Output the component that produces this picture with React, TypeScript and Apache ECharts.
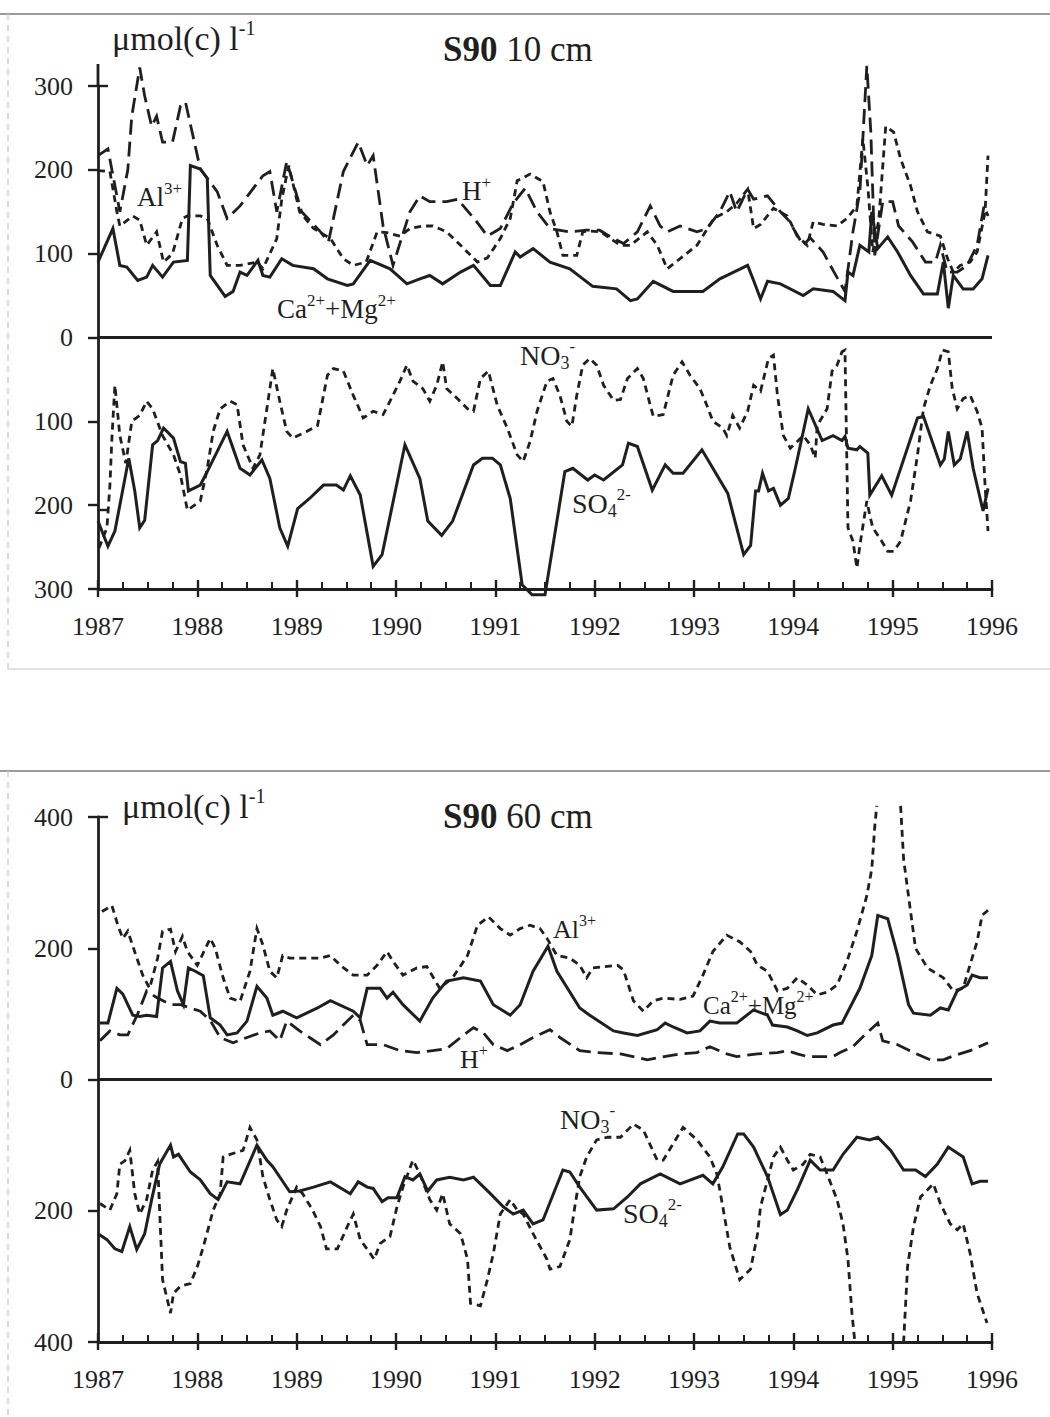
import React, { useEffect, useRef } from "react";
import * as echarts from "echarts";

type Pt = [number, number | "-"];

// ---------- axis definitions ----------
const xMin = 1987;
const xMax = 1996;
const yRange10 = 300; // upper panel: cations up, anions down
const yRange60 = 400; // lower panel

// ---------- S90 10 cm : cations ----------
const caMg10: Pt[] = [
  [1987.0, 90], [1987.15, 130], [1987.22, 86], [1987.29, 84], [1987.4, 68], [1987.49, 72], [1987.55, 86],
  [1987.65, 72], [1987.76, 90], [1987.9, 92], [1987.93, 205], [1988.03, 201], [1988.1, 190], [1988.13, 74],
  [1988.28, 49], [1988.36, 55], [1988.43, 78], [1988.5, 74], [1988.61, 92], [1988.66, 74], [1988.73, 72],
  [1988.85, 94], [1988.96, 86], [1989.17, 82], [1989.31, 70], [1989.51, 62], [1989.57, 64], [1989.74, 92],
  [1989.94, 82], [1990.11, 64], [1990.24, 70], [1990.34, 74], [1990.47, 64], [1990.65, 78], [1990.78, 86],
  [1990.95, 62], [1991.05, 62], [1991.2, 102], [1991.25, 96], [1991.38, 106], [1991.55, 90], [1991.75, 82],
  [1991.98, 61], [1992.22, 58], [1992.36, 44], [1992.43, 46], [1992.59, 67], [1992.79, 55], [1993.09, 55],
  [1993.26, 70], [1993.4, 78], [1993.54, 86], [1993.6, 68], [1993.67, 46], [1993.74, 67], [1993.87, 64],
  [1994.1, 50], [1994.2, 58], [1994.4, 55], [1994.52, 44], [1994.55, 78], [1994.6, 74], [1994.67, 110],
  [1994.76, 102], [1994.79, 150], [1994.85, 106], [1994.95, 120], [1995.05, 102], [1995.18, 74], [1995.31, 52],
  [1995.45, 52], [1995.51, 90], [1995.56, 35], [1995.61, 74], [1995.71, 58], [1995.81, 58], [1995.9, 70],
  [1995.96, 98],
];

const h10: Pt[] = [
  [1987.0, 217], [1987.1, 225], [1987.22, 150], [1987.3, 200], [1987.34, 264], [1987.42, 322], [1987.47, 288],
  [1987.54, 252], [1987.59, 264], [1987.65, 233], [1987.75, 233], [1987.83, 276], [1987.88, 281], [1988.03, 201],
  [1988.2, 174], [1988.3, 142], [1988.43, 157], [1988.66, 193], [1988.73, 198], [1988.8, 150], [1988.9, 210],
  [1989.05, 150], [1989.24, 126], [1989.32, 114], [1989.47, 198], [1989.62, 233], [1989.71, 205], [1989.77, 217],
  [1989.87, 133], [1989.97, 86], [1990.14, 150], [1990.24, 169], [1990.34, 162], [1990.51, 162], [1990.62, 165],
  [1990.8, 140], [1990.92, 121], [1991.05, 130], [1991.18, 160], [1991.3, 178], [1991.42, 150], [1991.55, 130],
  [1991.75, 126], [1991.92, 128], [1992.05, 128], [1992.16, 120], [1992.29, 112], [1992.43, 126], [1992.56, 157],
  [1992.66, 133], [1992.73, 126], [1992.86, 133], [1993.03, 126], [1993.13, 130], [1993.26, 150], [1993.36, 174],
  [1993.43, 150], [1993.54, 177], [1993.6, 165], [1993.74, 169], [1993.87, 150], [1993.95, 140], [1994.1, 110],
  [1994.17, 119], [1994.3, 102], [1994.4, 80], [1994.52, 55], [1994.6, 126], [1994.67, 174], [1994.74, 324],
  [1994.78, 245], [1994.82, 98], [1994.9, 162], [1995.0, 162], [1995.06, 133], [1995.2, 114], [1995.33, 90],
  [1995.43, 90], [1995.48, 110], [1995.55, 78], [1995.65, 78], [1995.75, 86], [1995.85, 110], [1995.92, 157],
  [1995.96, 145],
];

const al10: Pt[] = [
  [1987.0, 199], [1987.12, 198], [1987.19, 150], [1987.22, 133], [1987.35, 145], [1987.42, 140], [1987.49, 110],
  [1987.59, 126], [1987.66, 90], [1987.75, 100], [1987.85, 142], [1987.9, 145], [1988.03, 145], [1988.1, 142],
  [1988.2, 110], [1988.3, 86], [1988.43, 86], [1988.6, 90], [1988.66, 82], [1988.8, 118], [1988.85, 165],
  [1988.92, 205], [1989.03, 150], [1989.17, 130], [1989.34, 118], [1989.47, 94], [1989.57, 86], [1989.7, 90],
  [1989.81, 126], [1989.91, 125], [1990.04, 121], [1990.14, 130], [1990.27, 133], [1990.37, 133], [1990.51, 126],
  [1990.65, 110], [1990.82, 90], [1990.92, 95], [1991.05, 118], [1991.15, 142], [1991.22, 187], [1991.35, 195],
  [1991.48, 186], [1991.55, 150], [1991.62, 126], [1991.68, 98], [1991.82, 98], [1991.88, 126], [1991.95, 127],
  [1992.06, 126], [1992.26, 110], [1992.36, 110], [1992.53, 126], [1992.63, 110], [1992.73, 82], [1992.86, 94],
  [1993.03, 110], [1993.2, 142], [1993.33, 150], [1993.43, 160], [1993.54, 177], [1993.6, 130], [1993.67, 135],
  [1993.8, 154], [1993.94, 145], [1994.04, 121], [1994.14, 110], [1994.2, 138], [1994.3, 135], [1994.44, 133],
  [1994.54, 142], [1994.64, 157], [1994.7, 237], [1994.75, 180], [1994.8, 102], [1994.86, 140], [1994.93, 252],
  [1995.01, 245], [1995.08, 213], [1995.18, 181], [1995.25, 150], [1995.35, 126], [1995.48, 121], [1995.55, 95],
  [1995.61, 78], [1995.68, 86], [1995.78, 90], [1995.85, 102], [1995.93, 150], [1995.96, 217],
];

// ---------- S90 10 cm : anions (plotted downward) ----------
const no3_10: Pt[] = [
  [1987.01, 251], [1987.09, 227], [1987.12, 176], [1987.14, 120], [1987.17, 57], [1987.22, 117], [1987.28, 150],
  [1987.34, 100], [1987.42, 93], [1987.49, 76], [1987.55, 85], [1987.65, 117], [1987.76, 140], [1987.83, 164],
  [1987.9, 206], [1988.03, 195], [1988.1, 156], [1988.16, 112], [1988.23, 85], [1988.33, 76], [1988.4, 80],
  [1988.46, 128], [1988.56, 156], [1988.63, 140], [1988.7, 85], [1988.76, 37], [1988.83, 76], [1988.9, 112],
  [1988.96, 120], [1989.1, 112], [1989.21, 105], [1989.31, 45], [1989.37, 37], [1989.47, 40], [1989.57, 69],
  [1989.67, 96], [1989.77, 88], [1989.87, 92], [1989.94, 76], [1990.04, 52], [1990.11, 33], [1990.17, 52],
  [1990.27, 61], [1990.34, 76], [1990.41, 57], [1990.47, 29], [1990.51, 61], [1990.62, 73], [1990.72, 85],
  [1990.78, 88], [1990.85, 49], [1990.93, 40], [1991.02, 81], [1991.12, 108], [1991.22, 140], [1991.28, 148],
  [1991.35, 124], [1991.42, 88], [1991.52, 52], [1991.58, 49], [1991.65, 69], [1991.72, 100], [1991.77, 106],
  [1991.82, 69], [1991.88, 33], [1991.95, 25], [1992.02, 33], [1992.09, 57], [1992.19, 75], [1992.26, 74],
  [1992.33, 49], [1992.43, 37], [1992.49, 49], [1992.56, 81], [1992.59, 94], [1992.69, 92], [1992.79, 45],
  [1992.88, 29], [1992.96, 45], [1993.06, 61], [1993.13, 81], [1993.19, 100], [1993.29, 108], [1993.33, 117],
  [1993.39, 93], [1993.46, 108], [1993.54, 88], [1993.6, 57], [1993.67, 64], [1993.75, 25], [1993.8, 21],
  [1993.84, 69], [1993.9, 117], [1993.97, 132], [1994.04, 124], [1994.1, 117], [1994.17, 128], [1994.22, 144],
  [1994.24, 105], [1994.34, 85], [1994.39, 40], [1994.44, 33], [1994.49, 17], [1994.52, 15], [1994.55, 227],
  [1994.6, 243], [1994.64, 275], [1994.67, 248], [1994.74, 195], [1994.77, 212], [1994.8, 227], [1994.89, 243],
  [1994.95, 255], [1995.01, 255], [1995.08, 243], [1995.18, 195], [1995.25, 140], [1995.31, 85], [1995.38, 57],
  [1995.45, 37], [1995.5, 15], [1995.56, 17], [1995.6, 61], [1995.65, 85], [1995.71, 73], [1995.78, 69],
  [1995.85, 88], [1995.9, 108], [1995.93, 176], [1995.96, 231],
];

const so4_10: Pt[] = [
  [1987.0, 219], [1987.1, 249], [1987.17, 231], [1987.31, 144], [1987.37, 183], [1987.42, 227], [1987.47, 218],
  [1987.55, 128], [1987.6, 123], [1987.66, 108], [1987.76, 120], [1987.83, 148], [1987.88, 150], [1987.91, 183],
  [1988.03, 176], [1988.1, 160], [1988.3, 112], [1988.43, 156], [1988.53, 164], [1988.65, 146], [1988.73, 168],
  [1988.83, 227], [1988.91, 249], [1989.01, 204], [1989.13, 192], [1989.27, 176], [1989.4, 176], [1989.47, 182],
  [1989.54, 165], [1989.64, 188], [1989.77, 273], [1989.86, 259], [1990.09, 128], [1990.24, 168], [1990.32, 219],
  [1990.46, 236], [1990.57, 219], [1990.78, 152], [1990.87, 144], [1990.97, 144], [1991.05, 152], [1991.15, 192],
  [1991.27, 295], [1991.37, 307], [1991.5, 307], [1991.7, 160], [1991.78, 156], [1991.93, 170], [1992.0, 164],
  [1992.09, 170], [1992.28, 152], [1992.34, 126], [1992.43, 130], [1992.58, 182], [1992.71, 152], [1992.79, 162],
  [1992.89, 162], [1993.08, 134], [1993.34, 186], [1993.5, 259], [1993.57, 248], [1993.62, 183], [1993.65, 183],
  [1993.69, 162], [1993.75, 183], [1993.8, 180], [1993.87, 200], [1993.95, 192], [1994.02, 156], [1994.15, 85],
  [1994.29, 123], [1994.4, 117], [1994.49, 123], [1994.52, 118], [1994.55, 132], [1994.64, 134], [1994.67, 130],
  [1994.75, 138], [1994.77, 188], [1994.89, 165], [1994.99, 188], [1995.25, 96], [1995.31, 94], [1995.48, 152],
  [1995.52, 145], [1995.56, 112], [1995.62, 152], [1995.68, 145], [1995.75, 112], [1995.81, 156], [1995.91, 207],
  [1995.96, 180],
];

// ---------- S90 60 cm : cations ----------
const caMg60: Pt[] = [
  [1987.02, 86], [1987.1, 86], [1987.19, 139], [1987.25, 130], [1987.35, 98], [1987.42, 96], [1987.49, 98],
  [1987.59, 96], [1987.65, 170], [1987.73, 180], [1987.8, 135], [1987.86, 114], [1987.91, 170], [1987.98, 165],
  [1988.06, 158], [1988.13, 94], [1988.23, 83], [1988.3, 68], [1988.4, 71], [1988.5, 89], [1988.6, 142],
  [1988.7, 124], [1988.76, 98], [1988.86, 104], [1989.0, 94], [1989.21, 109], [1989.34, 120], [1989.57, 104],
  [1989.64, 94], [1989.71, 139], [1989.84, 139], [1989.91, 124], [1989.97, 133], [1990.07, 114], [1990.24, 89],
  [1990.37, 124], [1990.51, 150], [1990.68, 155], [1990.85, 150], [1990.98, 114], [1991.15, 98], [1991.25, 114],
  [1991.38, 165], [1991.53, 203], [1991.62, 165], [1991.85, 109], [1991.95, 98], [1992.19, 74], [1992.29, 71],
  [1992.43, 67], [1992.63, 76], [1992.71, 86], [1992.79, 80], [1992.93, 71], [1993.06, 74], [1993.16, 89],
  [1993.26, 86], [1993.43, 86], [1993.6, 106], [1993.67, 102], [1993.74, 98], [1993.79, 83], [1993.94, 80],
  [1994.04, 74], [1994.14, 67], [1994.24, 71], [1994.4, 83], [1994.49, 86], [1994.67, 139], [1994.79, 189],
  [1994.85, 250], [1994.95, 245], [1995.05, 189], [1995.16, 114], [1995.21, 101], [1995.38, 98], [1995.48, 109],
  [1995.56, 106], [1995.65, 135], [1995.75, 144], [1995.8, 159], [1995.88, 155], [1995.96, 155],
];

const h60: Pt[] = [
  [1987.02, 59], [1987.12, 74], [1987.22, 68], [1987.3, 68], [1987.4, 100], [1987.49, 135], [1987.59, 125],
  [1987.73, 114], [1987.83, 114], [1988.03, 104], [1988.13, 90], [1988.23, 64], [1988.36, 56], [1988.5, 64],
  [1988.63, 71], [1988.73, 74], [1988.83, 59], [1988.9, 89], [1989.03, 74], [1989.24, 53], [1989.37, 68],
  [1989.57, 98], [1989.64, 90], [1989.71, 53], [1989.87, 53], [1990.04, 44], [1990.21, 41], [1990.37, 44],
  [1990.51, 47], [1990.65, 64], [1990.78, 79], [1990.88, 71], [1990.98, 53], [1991.12, 44], [1991.25, 53],
  [1991.38, 64], [1991.55, 76], [1991.65, 64], [1991.85, 44], [1992.02, 41], [1992.26, 39], [1992.53, 30],
  [1992.66, 34], [1992.86, 39], [1993.03, 41], [1993.16, 50], [1993.33, 39], [1993.43, 35], [1993.64, 39],
  [1993.84, 41], [1993.94, 44], [1994.04, 39], [1994.14, 35], [1994.4, 35], [1994.47, 41], [1994.6, 50],
  [1994.74, 71], [1994.85, 86], [1994.9, 59], [1995.05, 53], [1995.21, 41], [1995.38, 30], [1995.51, 30],
  [1995.61, 36], [1995.78, 44], [1995.96, 56],
];

const al60: Pt[] = [
  [1987.04, 256], [1987.14, 265], [1987.2, 235], [1987.25, 215], [1987.3, 226], [1987.38, 190], [1987.45, 159],
  [1987.52, 139], [1987.6, 185], [1987.65, 226], [1987.73, 229], [1987.78, 195], [1987.85, 218], [1987.9, 195],
  [1988.0, 174], [1988.13, 215], [1988.18, 200], [1988.26, 155], [1988.33, 124], [1988.43, 119], [1988.53, 165],
  [1988.6, 230], [1988.66, 205], [1988.73, 165], [1988.8, 155], [1988.86, 189], [1988.93, 185], [1989.1, 185],
  [1989.24, 185], [1989.34, 189], [1989.44, 174], [1989.57, 159], [1989.71, 159], [1989.81, 174], [1989.91, 195],
  [1989.97, 180], [1990.07, 159], [1990.21, 170], [1990.31, 172], [1990.44, 139], [1990.57, 155], [1990.72, 189],
  [1990.82, 235], [1990.93, 248], [1991.05, 230], [1991.15, 220], [1991.25, 230], [1991.35, 235], [1991.45, 230],
  [1991.52, 215], [1991.62, 189], [1991.75, 185], [1991.85, 174], [1991.92, 155], [1991.98, 170], [1992.23, 174],
  [1992.29, 167], [1992.39, 120], [1992.49, 104], [1992.59, 120], [1992.69, 124], [1992.86, 122], [1992.99, 127],
  [1993.09, 159], [1993.19, 195], [1993.33, 220], [1993.46, 210], [1993.57, 195], [1993.64, 174], [1993.74, 165],
  [1993.84, 135], [1993.94, 139], [1994.04, 155], [1994.14, 144], [1994.24, 129], [1994.34, 133], [1994.44, 144],
  [1994.54, 180], [1994.64, 226], [1994.74, 280], [1994.79, 321], [1994.82, 386], [1994.84, 417], [1994.96, "-"],
  [1995.08, 417], [1995.11, 336], [1995.18, 256], [1995.23, 200], [1995.35, 170], [1995.51, 155], [1995.61, 135],
  [1995.71, 139], [1995.76, 165], [1995.85, 210], [1995.9, 250], [1995.96, 258],
];

// ---------- S90 60 cm : anions (plotted downward) ----------
const no3_60: Pt[] = [
  [1987.02, 189], [1987.12, 199], [1987.19, 174], [1987.22, 129], [1987.27, 124], [1987.32, 108], [1987.37, 174],
  [1987.42, 205], [1987.49, 183], [1987.55, 138], [1987.6, 125], [1987.65, 305], [1987.73, 356], [1987.76, 326],
  [1987.83, 315], [1987.93, 311], [1988.0, 285], [1988.06, 255], [1988.16, 199], [1988.23, 174], [1988.26, 118],
  [1988.33, 114], [1988.46, 108], [1988.53, 73], [1988.6, 92], [1988.66, 148], [1988.73, 183], [1988.8, 214],
  [1988.85, 224], [1988.9, 199], [1989.0, 164], [1989.06, 174], [1989.16, 199], [1989.24, 224], [1989.3, 258],
  [1989.41, 258], [1989.51, 224], [1989.57, 205], [1989.64, 244], [1989.74, 265], [1989.78, 274], [1989.84, 250],
  [1989.94, 239], [1990.01, 194], [1990.07, 164], [1990.17, 123], [1990.24, 144], [1990.34, 183], [1990.41, 199],
  [1990.47, 174], [1990.54, 220], [1990.65, 235], [1990.72, 274], [1990.75, 341], [1990.85, 345], [1990.92, 305],
  [1990.98, 265], [1991.05, 205], [1991.15, 183], [1991.22, 199], [1991.28, 205], [1991.38, 235], [1991.52, 274],
  [1991.55, 289], [1991.65, 285], [1991.75, 244], [1991.8, 194], [1991.85, 148], [1991.92, 118], [1992.02, 92],
  [1992.13, 88], [1992.26, 88], [1992.39, 68], [1992.49, 77], [1992.63, 123], [1992.69, 123], [1992.79, 98],
  [1992.89, 73], [1993.03, 92], [1993.16, 118], [1993.23, 144], [1993.29, 194], [1993.36, 255], [1993.46, 305],
  [1993.57, 289], [1993.64, 235], [1993.67, 194], [1993.74, 153], [1993.8, 118], [1993.87, 103], [1993.94, 123],
  [1994.0, 138], [1994.1, 129], [1994.17, 114], [1994.27, 118], [1994.34, 144], [1994.44, 183], [1994.5, 220],
  [1994.55, 274], [1994.59, 356], [1994.62, 401], [1994.9, "-"], [1995.11, 401], [1995.15, 285], [1995.21, 224],
  [1995.28, 179], [1995.41, 159], [1995.48, 189], [1995.58, 220], [1995.65, 229], [1995.71, 220], [1995.78, 265],
  [1995.85, 326], [1995.95, 371],
];

const so4_60: Pt[] = [
  [1987.0, 235], [1987.09, 244], [1987.17, 258], [1987.24, 262], [1987.32, 224], [1987.39, 259], [1987.47, 235],
  [1987.54, 183], [1987.62, 129], [1987.73, 100], [1987.76, 118], [1987.81, 114], [1987.93, 141], [1988.03, 153],
  [1988.13, 174], [1988.21, 183], [1988.3, 156], [1988.43, 159], [1988.6, 100], [1988.7, 123], [1988.76, 133],
  [1988.93, 171], [1989.03, 170], [1989.17, 164], [1989.34, 156], [1989.54, 174], [1989.62, 156], [1989.71, 164],
  [1989.77, 166], [1989.86, 186], [1989.92, 180], [1990.01, 180], [1990.09, 148], [1990.17, 153], [1990.24, 144],
  [1990.32, 170], [1990.41, 153], [1990.54, 149], [1990.68, 153], [1990.78, 149], [1990.95, 174], [1991.08, 194],
  [1991.18, 205], [1991.28, 199], [1991.38, 220], [1991.48, 214], [1991.68, 138], [1991.75, 141], [1991.85, 164],
  [1992.02, 199], [1992.19, 197], [1992.33, 179], [1992.46, 159], [1992.66, 144], [1992.86, 159], [1993.09, 146],
  [1993.19, 159], [1993.29, 133], [1993.44, 83], [1993.5, 83], [1993.6, 103], [1993.74, 148], [1993.87, 206],
  [1993.94, 199], [1994.04, 168], [1994.17, 123], [1994.27, 138], [1994.4, 138], [1994.5, 114], [1994.64, 88],
  [1994.77, 92], [1994.85, 88], [1994.98, 108], [1995.11, 138], [1995.23, 138], [1995.33, 148], [1995.45, 129],
  [1995.56, 103], [1995.71, 118], [1995.8, 159], [1995.88, 155], [1995.96, 155],
];

// ---------- styling ----------
const INK = "#1f1f1f";
const FONT = "'Liberation Serif', 'Times New Roman', serif";
const DASH_LONG = [15, 7];
const DASH_SHORT = [7, 5];
const W_SOLID = 3;
const W_DASH = 2.8;

const down = (d: Pt[]): Pt[] => d.map(([x, v]) => [x, v === "-" ? "-" : -v] as Pt);

function line(data: Pt[], grid: number, dash: any, width = W_DASH) {
  return {
    type: "line",
    data,
    xAxisIndex: grid * 2,
    yAxisIndex: grid,
    symbol: "none",
    showSymbol: false,
    clip: false,
    connectNulls: false,
    silent: true,
    lineStyle: { color: INK, width, type: dash, cap: "butt", join: "miter" },
  };
}

function zeroLine(grid: number) {
  return {
    type: "line",
    data: [],
    xAxisIndex: grid * 2,
    yAxisIndex: grid,
    symbol: "none",
    markLine: {
      silent: true,
      symbol: ["none", "none"],
      label: { show: false },
      lineStyle: { color: INK, width: 2.8, type: "solid" },
      data: [{ yAxis: 0 }],
    },
  };
}

function xAxes(grid: number) {
  const base = {
    type: "value",
    gridIndex: grid,
    min: xMin,
    max: xMax,
    interval: 1,
    position: "bottom",
    splitLine: { show: false },
  };
  return [
    {
      ...base,
      axisLine: { show: true, onZero: false, lineStyle: { color: INK, width: 2.8 } },
      axisTick: { show: true, inside: false, length: 8, lineStyle: { color: INK, width: 2.4 } },
      axisLabel: {
        show: true,
        margin: 24,
        fontSize: 26,
        fontFamily: FONT,
        color: INK,
        showMinLabel: true,
        showMaxLabel: true,
        formatter: (v: number) => String(v),
      },
    },
    {
      ...base,
      axisLine: { show: false, onZero: false },
      axisTick: { show: true, inside: true, length: 9, lineStyle: { color: INK, width: 2.4 } },
      minorTick: { show: true, splitNumber: 4, length: 7, lineStyle: { color: INK, width: 2 } },
      axisLabel: { show: false },
    },
  ];
}

function yAxis(grid: number, range: number, interval: number) {
  return {
    type: "value",
    gridIndex: grid,
    min: -range,
    max: range,
    interval,
    axisLine: { show: true, onZero: false, lineStyle: { color: INK, width: 2.8 } },
    axisTick: { show: true, length: 10, lineStyle: { color: INK, width: 2.4 } },
    splitLine: { show: false },
    axisLabel: {
      margin: 25,
      fontSize: 26,
      fontFamily: FONT,
      color: INK,
      formatter: (v: number) => String(Math.abs(v)),
    },
  };
}

function label(text: string, x: number, y: number, size = 27) {
  return {
    type: "text",
    x,
    y,
    silent: true,
    style: {
      text,
      align: "left",
      verticalAlign: "top",
      fill: INK,
      fontFamily: FONT,
      fontSize: size,
      rich: {
        b: { fontSize: size, fontFamily: FONT, fill: INK, lineHeight: 34 },
        sup: { fontSize: Math.round(size * 0.62), fontFamily: FONT, fill: INK, verticalAlign: "top", lineHeight: 34 },
        sub: { fontSize: Math.round(size * 0.66), fontFamily: FONT, fill: INK, verticalAlign: "bottom", lineHeight: 34 },
      },
    },
  };
}

function titleText(depth: string, x: number, y: number) {
  return {
    type: "text",
    x,
    y,
    silent: true,
    style: {
      text: `{bold|S90}{n| ${depth}}`,
      align: "left",
      verticalAlign: "top",
      fill: INK,
      rich: {
        bold: { fontSize: 35, fontWeight: "bold", fontFamily: FONT, fill: INK },
        n: { fontSize: 35, fontFamily: FONT, fill: INK },
      },
    },
  };
}

function unitText(x: number, y: number) {
  return {
    type: "text",
    x,
    y,
    silent: true,
    style: {
      text: "{b|\u03bcmol(c) l}{sup|-1}",
      align: "left",
      verticalAlign: "top",
      fill: INK,
      rich: {
        b: { fontSize: 34, fontFamily: FONT, fill: INK, lineHeight: 40 },
        sup: { fontSize: 20, fontFamily: FONT, fill: INK, verticalAlign: "top", lineHeight: 40 },
      },
    },
  };
}

function frameLine(x1: number, y1: number, x2: number, y2: number, color: string, dash?: number[]) {
  return {
    type: "line",
    silent: true,
    shape: { x1, y1, x2, y2 },
    style: { stroke: color, lineWidth: 1.5, lineDash: dash },
  };
}

function tick(x1: number, y1: number, x2: number, y2: number) {
  return { type: "line", silent: true, shape: { x1, y1, x2, y2 }, style: { stroke: INK, lineWidth: 2.4 } };
}

export default function App() {
  const ref = useRef<HTMLDivElement>(null);

  useEffect(() => {
    if (!ref.current) return;
    const chart = echarts.init(ref.current, undefined, { renderer: "svg" });
    const option: any = {
      animation: false,
      backgroundColor: "#ffffff",
      textStyle: { fontFamily: FONT },
      grid: [
        { left: 98, top: 86, width: 894, height: 503, containLabel: false },
        { left: 98, top: 817, width: 894, height: 525, containLabel: false },
      ],
      xAxis: [...xAxes(0), ...xAxes(1)],
      yAxis: [yAxis(0, yRange10, 100), yAxis(1, yRange60, 200)],
      series: [
        zeroLine(0),
        line(al10, 0, DASH_SHORT),
        line(h10, 0, DASH_LONG),
        line(caMg10, 0, "solid", W_SOLID),
        line(down(no3_10), 0, DASH_SHORT),
        line(down(so4_10), 0, "solid", W_SOLID),
        zeroLine(1),
        line(al60, 1, DASH_SHORT),
        line(h60, 1, DASH_LONG),
        line(caMg60, 1, "solid", W_SOLID),
        line(down(no3_60), 1, DASH_SHORT),
        line(down(so4_60), 1, "solid", W_SOLID),
      ],
      graphic: [
        // panel frames
        frameLine(0, 14, 1050, 14, "#7a7a7a"),
        frameLine(8, 14, 8, 669, "#d0d0d0", [6, 5]),
        frameLine(8, 669, 1050, 669, "#d8d8d8"),
        frameLine(0, 771, 1050, 771, "#7a7a7a"),
        frameLine(8, 771, 8, 1417, "#d0d0d0", [6, 5]),
        // y-axis extension above the top tick of the upper panel, crossing top ticks
        { type: "line", silent: true, shape: { x1: 98, y1: 64, x2: 98, y2: 86 }, style: { stroke: INK, lineWidth: 2.8 } },
        tick(98, 86, 108, 86),
        tick(98, 817, 108, 817),
        tick(98, 510, 108, 510),
        // upper panel texts
        unitText(112, 18),
        titleText("10 cm", 443, 32),
        label("{b|Al}{sup|3+}", 137, 180),
        label("{b|H}{sup|+}", 462, 174),
        label("{b|Ca}{sup|2+}{b|+Mg}{sup|2+}", 277, 292),
        label("{b|NO}{sub|3}{sup|-}", 520, 338, 28),
        label("{b|SO}{sub|4}{sup|2-}", 572, 486, 28),
        // lower panel texts
        unitText(122, 786),
        titleText("60 cm", 443, 799),
        label("{b|Al}{sup|3+}", 553, 912, 26),
        label("{b|Ca}{sup|2+}{b|+Mg}{sup|2+}", 703, 988, 25),
        label("{b|H}{sup|+}", 460, 1042, 26),
        label("{b|NO}{sub|3}{sup|-}", 560, 1102, 28),
        label("{b|SO}{sub|4}{sup|2-}", 623, 1196, 28),
      ],
    };
    chart.setOption(option);
    return () => chart.dispose();
  }, []);

  return (
    <div
      ref={ref}
      style={{ position: "absolute", left: 0, top: 0, width: 1050, height: 1417, background: "#fff" }}
    />
  );
}
